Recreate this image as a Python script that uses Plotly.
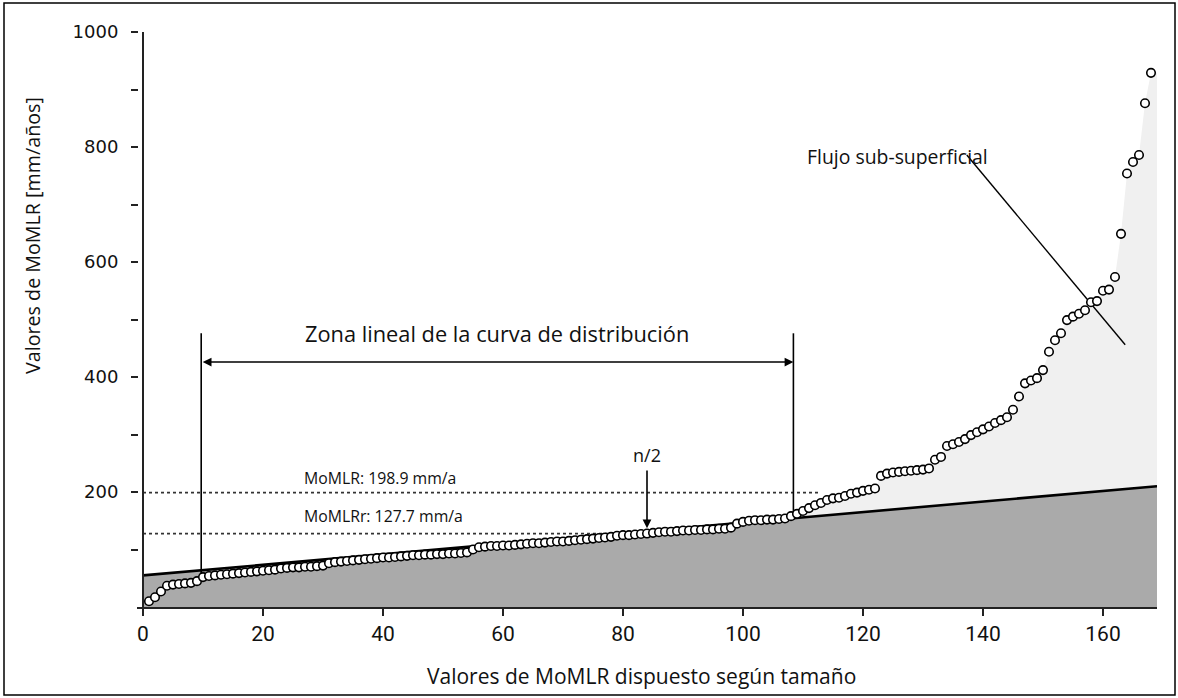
import plotly.graph_objects as go

# ---- data ----
momlr_sorted = [
    10, 17, 27, 37, 39, 40, 41, 42, 45, 52,
    54, 55, 56, 57, 58, 59, 60, 61, 62, 63,
    64, 65, 67, 68, 69, 69, 70, 70, 71, 72,
    76, 78, 79, 80, 81, 82, 83, 84, 85, 86,
    86, 87, 88, 89, 90, 90, 91, 91, 92, 92,
    93, 93, 94, 95, 100, 104, 105, 106, 106, 107,
    107, 108, 109, 110, 111, 111, 112, 113, 114, 114,
    115, 116, 117, 118, 119, 120, 121, 122, 124, 125,
    125, 126, 127, 127.7, 129, 130, 131, 131, 132, 133,
    133, 134, 134, 135, 135, 136, 136, 138, 145, 148,
    150, 151, 151, 152, 152, 153, 154, 158, 162, 167,
    172, 177, 181, 186, 189, 190, 193, 197, 199, 202,
    204, 206, 228, 232, 234, 235, 236, 237, 238, 239,
    241, 256, 261, 280, 283, 287, 292, 299, 304, 309,
    314, 320, 325, 330, 343, 366, 389, 394, 398, 412,
    444, 464, 476, 499, 505, 510, 516, 530, 532, 550,
    552, 574, 649, 754, 774, 786, 876, 929,
]
rank = list(range(1, len(momlr_sorted) + 1))

reg_x = [0, 169]          # linear (regression) line of the distribution
reg_y = [55, 210]

momlr_value = 198.9       # MoMLR
momlrr_value = 127.7      # MoMLRr (median)
n_half = 84               # n/2
linear_zone = [9.7, 108.4]

x_ticks = [0, 20, 40, 60, 80, 100, 120, 140, 160]
y_ticks = [100, 200, 300, 400, 500, 600, 700, 800, 900, 1000]
y_ticktext = ["" if v % 200 else str(v) for v in y_ticks]

X_RANGE = [-1, 169]
Y_RANGE = [0, 1000]

fig = go.Figure()

# light grey area under the data curve
fig.add_trace(go.Scatter(
    x=rank + [X_RANGE[1]], y=momlr_sorted + [momlr_sorted[-1]],
    mode="lines", line=dict(width=0, color="rgba(0,0,0,0)"),
    fill="tozeroy", fillcolor="#f0f0f0", hoverinfo="skip", showlegend=False))

# dark grey area under the linear line
fig.add_trace(go.Scatter(
    x=reg_x, y=reg_y, mode="lines",
    line=dict(color="black", width=2.6),
    fill="tozeroy", fillcolor="#aaaaaa", showlegend=False))

# dotted reference lines
fig.add_trace(go.Scatter(
    x=[0, 113], y=[momlr_value, momlr_value], mode="lines",
    line=dict(color="#333333", width=1.8, dash="3px,3px"), showlegend=False))
fig.add_trace(go.Scatter(
    x=[0, 81], y=[momlrr_value, momlrr_value], mode="lines",
    line=dict(color="#333333", width=1.8, dash="3px,3px"), showlegend=False))

# vertical limits of linear zone
fig.add_trace(go.Scatter(
    x=[linear_zone[0], linear_zone[0]], y=[52, 476], mode="lines",
    line=dict(color="black", width=1.6), showlegend=False))
fig.add_trace(go.Scatter(
    x=[linear_zone[1], linear_zone[1]], y=[158, 476], mode="lines",
    line=dict(color="black", width=1.6), showlegend=False))

# sub-surface flow pointer line
fig.add_trace(go.Scatter(
    x=[137.3, 163.7], y=[786, 456], mode="lines",
    line=dict(color="black", width=1.4), showlegend=False))

# data points
fig.add_trace(go.Scatter(
    x=rank, y=momlr_sorted, mode="markers",
    marker=dict(symbol="circle", size=8.5, color="white",
                line=dict(color="black", width=1.6)),
    showlegend=False))

txt_font = "Open Sans, Noto Sans, sans-serif"

annotations = [
    # double arrow of linear zone
    dict(x=linear_zone[1], y=426, ax=linear_zone[0], ay=426,
         xref="x", yref="y", axref="x", ayref="y", text="",
         showarrow=True, arrowhead=2, arrowside="end+start",
         arrowsize=1.1, arrowwidth=1.6, arrowcolor="black",
         startarrowhead=2, startarrowsize=1.1),
    dict(x=59, y=476, xref="x", yref="y", text="Zona lineal de la curva de distribución",
         showarrow=False, font=dict(family=txt_font, size=21.8, color="#111")),
    # n/2 arrow
    dict(x=n_half, y=137, ax=n_half, ay=240, xref="x", yref="y",
         axref="x", ayref="y", text="", showarrow=True, arrowhead=2,
         arrowsize=1.1, arrowwidth=1.6, arrowcolor="black"),
    dict(x=n_half, y=264, xref="x", yref="y", text="n/2", showarrow=False,
         font=dict(family=txt_font, size=18, color="#111")),
    dict(x=26.5, y=224, xref="x", yref="y", xanchor="left",
         text=f"MoMLR: {momlr_value} mm/a", showarrow=False,
         font=dict(family=txt_font, size=15.8, color="#111")),
    dict(x=26.5, y=158, xref="x", yref="y", xanchor="left",
         text=f"MoMLRr: {momlrr_value} mm/a", showarrow=False,
         font=dict(family=txt_font, size=15.8, color="#111")),
    dict(x=125.7, y=783, xref="x", yref="y", text="Flujo sub-superficial",
         showarrow=False, font=dict(family=txt_font, size=19.4, color="#111")),
    # axis titles
    dict(x=(33 - 137) / 1020, y=(607 - 236) / 575, xref="paper", yref="paper",
         xanchor="center", yanchor="middle",
         text="Valores de MoMLR [mm/años]", textangle=-90, showarrow=False,
         font=dict(family=txt_font, size=19.7, color="#111")),
    dict(x=(641 - 137) / 1020, y=(607 - 676) / 575, xref="paper", yref="paper",
         xanchor="center", yanchor="middle",
         text="Valores de MoMLR dispuesto según tamaño", showarrow=False,
         font=dict(family=txt_font, size=21, color="#111")),
]

shapes = [
    # y axis line at x = 0
    dict(type="line", xref="x", yref="y", x0=0, x1=0, y0=0, y1=1000,
         line=dict(color="#222", width=2)),
    # outer frame
    dict(type="rect", xref="paper", yref="paper",
         x0=(4 - 137) / 1020, x1=(1175 - 137) / 1020,
         y0=(607 - 695) / 575, y1=(607 - 3) / 575,
         line=dict(color="black", width=1.5), fillcolor="rgba(0,0,0,0)"),
]

fig.update_layout(
    width=1178, height=698,
    margin=dict(l=137, r=21, t=32, b=91),
    paper_bgcolor="white", plot_bgcolor="white",
    annotations=annotations, shapes=shapes,
    xaxis=dict(range=X_RANGE, tickvals=x_ticks, ticks="outside", ticklen=7,
               tickwidth=2, tickcolor="#222", showline=True, linecolor="#222",
               linewidth=2, showgrid=False, zeroline=False,
               tickfont=dict(family="Liberation Sans Narrow, Roboto, sans-serif",
                             size=21, color="#111")),
    yaxis=dict(range=Y_RANGE, tickvals=y_ticks, ticktext=y_ticktext,
               anchor="free", position=1 / 1020,
               ticks="outside", ticklen=7, tickwidth=1.5, tickcolor="#222",
               showline=False, showgrid=False, zeroline=False,
               ticklabelstandoff=9,
               tickfont=dict(family="DejaVu Sans, sans-serif", size=18, color="#111")),
)

fig.write_html("out.html")
